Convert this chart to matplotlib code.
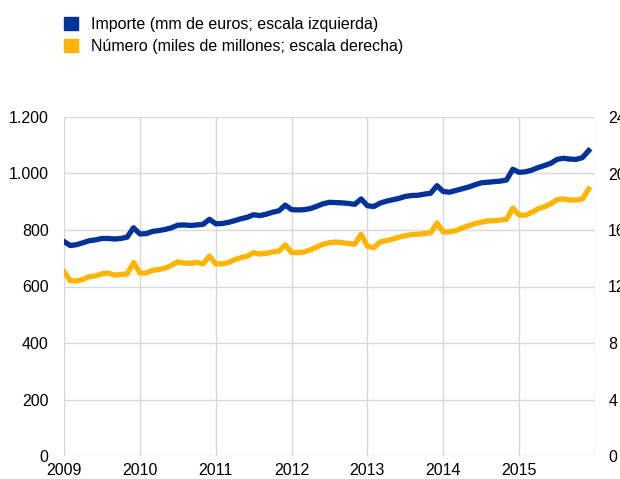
import matplotlib
matplotlib.use("Agg")
import matplotlib.pyplot as plt
from matplotlib.patches import Patch
from matplotlib.ticker import FuncFormatter, MultipleLocator
import numpy as np

plt.rcParams['font.family'] = ['Liberation Sans', 'DejaVu Sans']

# datos mensuales, enero 2009 - diciembre 2015
importe = [
    759, 745, 748, 755, 762, 765, 770, 770, 768, 770, 775, 808,
    786, 787, 795, 798, 802, 808, 817, 818, 816, 818, 820, 838,
    822, 823, 827, 833, 840, 845, 854, 851, 856, 863, 868, 888,
    872, 871, 872, 876, 884, 893, 898, 897, 896, 894, 891, 910,
    886, 883, 895, 902, 907, 912, 919, 922, 923, 927, 930, 957,
    936, 934, 940, 946, 952, 960, 967, 969, 971, 973, 977, 1015,
    1004, 1006, 1012, 1021, 1028, 1036, 1050, 1054, 1051, 1050, 1056, 1081,
]
numero = [
    13.05, 12.4, 12.4, 12.5, 12.7, 12.75, 12.9, 12.95, 12.8, 12.85, 12.9, 13.7,
    12.95, 12.95, 13.15, 13.2, 13.3, 13.5, 13.75, 13.65, 13.65, 13.7, 13.6, 14.15,
    13.6, 13.6, 13.7, 13.9, 14.05, 14.15, 14.4, 14.3, 14.35, 14.45, 14.5, 14.95,
    14.4, 14.4, 14.45, 14.6, 14.8, 15.0, 15.1, 15.15, 15.1, 15.05, 15.0, 15.7,
    14.85, 14.75, 15.15, 15.25, 15.35, 15.5, 15.6, 15.68, 15.7, 15.75, 15.8, 16.5,
    15.85, 15.88, 15.95, 16.15, 16.3, 16.45, 16.55, 16.65, 16.65, 16.7, 16.75, 17.55,
    17.05, 17.05, 17.25, 17.5, 17.65, 17.85, 18.15, 18.2, 18.12, 18.12, 18.2, 18.9,
]
years = [2009, 2010, 2011, 2012, 2013, 2014, 2015]
labels = ["Importe (mm de euros; escala izquierda)",
          "Número (miles de millones; escala derecha)"]

fechas = 2009 + np.arange(len(importe)) / 12.0

azul = "#003299"
amarillo = "#FFB400"
gris = "#d9d9d9"
fs = 11.5

fig = plt.figure(figsize=(6.2, 4.79), dpi=100)
ax = fig.add_axes([64 / 620, 1 - 456 / 479, (595 - 64) / 620, (456 - 117) / 479])
ax2 = ax.twinx()

ax.plot(fechas, importe, color=azul, lw=3.8, solid_joinstyle="round", zorder=3)
ax2.plot(fechas, numero, color=amarillo, lw=3.8, solid_joinstyle="round", zorder=3)

ax.set_xlim(2009, 2016)
ax.set_ylim(0, 1200)
ax2.set_ylim(0, 24)
ax.set_xticks(years)
ax.set_xticklabels([str(y) for y in years])
ax.yaxis.set_major_locator(MultipleLocator(200))
ax2.yaxis.set_major_locator(MultipleLocator(4))
ax.yaxis.set_major_formatter(FuncFormatter(lambda v, p: f"{int(v):,}".replace(",", ".")))

ax.grid(True, color=gris, lw=1)
ax.set_axisbelow(True)
ax.axvline(2016, color=gris, lw=1, zorder=0)
for a in (ax, ax2):
    for s in a.spines.values():
        s.set_visible(False)
ax.tick_params(axis="both", length=0, labelsize=fs, colors="#000000")
ax.tick_params(axis="y", pad=11)
ax.tick_params(axis="x", pad=5)
ax2.tick_params(axis="y", length=0, labelsize=fs, pad=9.5)

handles = [Patch(color=azul), Patch(color=amarillo)]
fig.legend(handles, labels, loc="upper left", bbox_to_anchor=(58 / 620, 1 - 11 / 479),
           frameon=False, fontsize=fs, handlelength=0.85, handleheight=0.85,
           handletextpad=0.8, labelspacing=0.4, borderaxespad=0)

fig.savefig("out.png", dpi=100)
